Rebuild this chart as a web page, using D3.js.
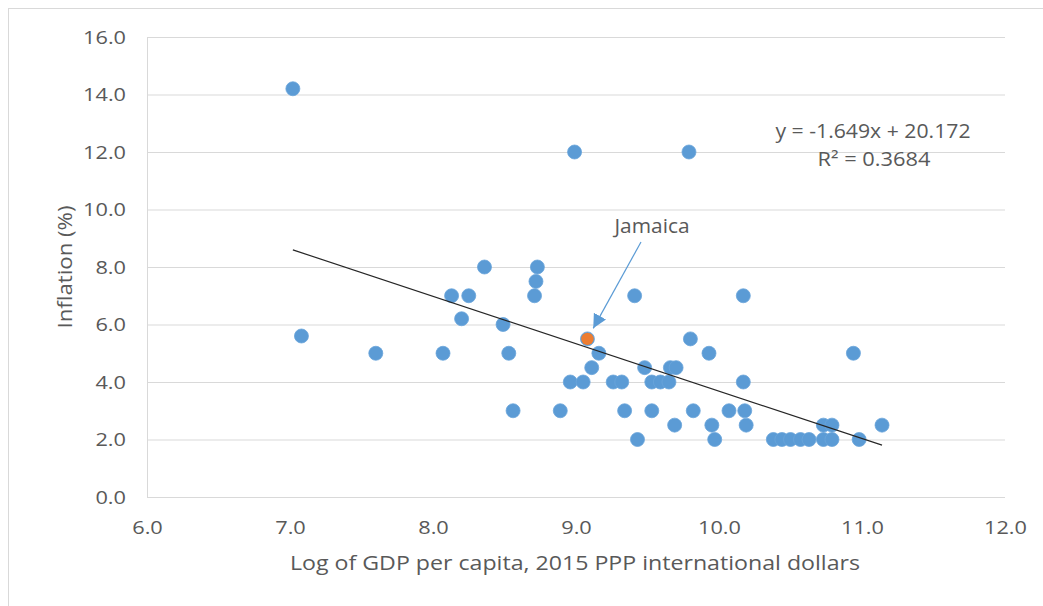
<!DOCTYPE html>
<html>
<head>
<meta charset="utf-8">
<script src="https://cdn.jsdelivr.net/npm/d3@7"></script>
<style>
  html, body { margin: 0; padding: 0; background: #ffffff; }
  svg { display: block; }
  text { font-family: "Open Sans", "Liberation Sans", sans-serif; fill: #595959; }
</style>
</head>
<body>
<svg id="chart" width="1043" height="606"></svg>
<script>
// ---- data ----
const gdpLog = [
  7.02, 7.08, 7.60, 8.07, 8.13, 8.20, 8.25, 8.36, 8.49, 8.53,
  8.56, 8.71, 8.72, 8.73, 8.89, 8.96, 8.99, 9.05, 9.08, 9.11,
  9.16, 9.26, 9.32, 9.34, 9.41, 9.43, 9.48, 9.53, 9.53, 9.59,
  9.65, 9.66, 9.70, 9.69, 9.79, 9.80, 9.82, 9.93, 9.95, 9.97,
  10.07, 10.17, 10.17, 10.18, 10.19, 10.38, 10.44, 10.50, 10.57, 10.63,
  10.73, 10.79, 10.73, 10.79, 10.94, 10.98, 11.14
];
const inflation = [
  14.2, 5.6, 5.0, 5.0, 7.0, 6.2, 7.0, 8.0, 6.0, 5.0,
  3.0, 7.0, 7.5, 8.0, 3.0, 4.0, 12.0, 4.0, 5.5, 4.5,
  5.0, 4.0, 4.0, 3.0, 7.0, 2.0, 4.5, 4.0, 3.0, 4.0,
  4.0, 4.5, 4.5, 2.5, 12.0, 5.5, 3.0, 5.0, 2.5, 2.0,
  3.0, 7.0, 4.0, 3.0, 2.5, 2.0, 2.0, 2.0, 2.0, 2.0,
  2.0, 2.0, 2.5, 2.5, 5.0, 2.0, 2.5
];
const highlightName = ["Jamaica"];
const highlightX = [9.08];
const highlightY = [5.5];
const trendSlope = -1.649;
const trendIntercept = 20.172;
const rSquared = 0.3684;
const xTicks = [6, 7, 8, 9, 10, 11, 12];
const yTicks = [0, 2, 4, 6, 8, 10, 12, 14, 16];
const xTitle = "Log of GDP per capita, 2015 PPP international dollars";
const yTitle = "Inflation (%)";

// ---- drawing ----
const svg = d3.select("#chart");
const plotL = 147, plotR = 1005, plotT = 37, plotB = 497;
const x = d3.scaleLinear().domain([6, 12]).range([plotL, plotR]);
const y = d3.scaleLinear().domain([0, 16]).range([plotB, plotT]);
const grey = "#595959";
const fmt = d3.format(".1f");
const labelWidth = s => s.replace(".", "").length * 12.3 + 6;

// outer chart border (left/top visible)
svg.append("rect").attr("x", 8.5).attr("y", 8.5).attr("width", 1100).attr("height", 700)
  .attr("fill", "none").attr("stroke", "#d9d9d9").attr("stroke-width", 1);

// y axis with gridlines
const yAxis = svg.append("g").attr("transform", `translate(${plotL},0)`)
  .call(d3.axisLeft(y).tickValues(yTicks).tickFormat(fmt)
    .tickSize(-(plotR - plotL)).tickSizeOuter(0).tickPadding(21));
yAxis.select(".domain").attr("stroke", "#d9d9d9").attr("stroke-width", 1);
yAxis.selectAll(".tick line").attr("stroke", "#d9d9d9").attr("stroke-width", 1);
yAxis.selectAll(".tick text")
  .style("font-size", "18.5px").attr("fill", grey).attr("dy", "0.35em")
  .each(function(d){ d3.select(this).attr("textLength", labelWidth(fmt(d))).attr("lengthAdjust", "spacingAndGlyphs"); });

// x axis labels
const xAxis = svg.append("g").attr("transform", `translate(0,${plotB})`)
  .call(d3.axisBottom(x).tickValues(xTicks).tickFormat(fmt).tickSize(0).tickPadding(24));
xAxis.select(".domain").remove();
xAxis.selectAll(".tick text")
  .style("font-size", "18.5px").attr("fill", grey)
  .each(function(d){ d3.select(this).attr("textLength", labelWidth(fmt(d))).attr("lengthAdjust", "spacingAndGlyphs"); });

// axis titles
svg.append("text").attr("x", 575).attr("y", 570)
  .attr("text-anchor", "middle").style("font-size", "19.5px")
  .attr("textLength", 570).attr("lengthAdjust", "spacingAndGlyphs")
  .text(xTitle);
svg.append("text").attr("transform", `translate(72,267) rotate(-90)`)
  .attr("text-anchor", "middle").style("font-size", "19.5px")
  .attr("textLength", 123).attr("lengthAdjust", "spacingAndGlyphs")
  .text(yTitle);

// points
const pts = gdpLog.map((v, i) => ({ x: v, y: inflation[i] }));
svg.append("g").selectAll("circle").data(pts).join("circle")
  .attr("cx", d => x(d.x)).attr("cy", d => y(d.y)).attr("r", 7)
  .attr("fill", "#5b9bd5").attr("stroke", "#6aa5db").attr("stroke-width", 0.8);

// trend line over data range
const xMin = d3.min(gdpLog), xMax = d3.max(gdpLog);
svg.append("line")
  .attr("x1", x(xMin)).attr("y1", y(trendSlope * xMin + trendIntercept))
  .attr("x2", x(xMax)).attr("y2", y(trendSlope * xMax + trendIntercept))
  .attr("stroke", "#262626").attr("stroke-width", 1.2);

// highlighted point (Jamaica)
const hl = highlightX.map((v, i) => ({ x: v, y: highlightY[i], name: highlightName[i] }));
svg.append("g").selectAll("circle").data(hl).join("circle")
  .attr("cx", d => x(d.x)).attr("cy", d => y(d.y)).attr("r", 6.2)
  .attr("fill", "#ed7d31");

// annotation arrow + label
svg.append("defs").append("marker").attr("id", "arrow")
  .attr("viewBox", "0 0 10 10").attr("refX", 10).attr("refY", 5)
  .attr("markerWidth", 14).attr("markerHeight", 14).attr("markerUnits", "userSpaceOnUse")
  .attr("orient", "auto")
  .append("path").attr("d", "M0,0 L10,5 L0,10 Z").attr("fill", "#5b9bd5");

hl.forEach(d => {
  const px = x(d.x), py = y(d.y);
  const sx = 641, sy = 242;
  const dx = sx - px, dy = sy - py, len = Math.hypot(dx, dy);
  const tx = px + dx / len * 12, ty = py + dy / len * 12;
  svg.append("line").attr("x1", sx).attr("y1", sy).attr("x2", tx).attr("y2", ty)
    .attr("stroke", "#5b9bd5").attr("stroke-width", 1.2).attr("marker-end", "url(#arrow)");
  svg.append("text").attr("x", 652).attr("y", 233).attr("text-anchor", "middle")
    .style("font-size", "19.5px").attr("fill", "#404040")
    .attr("textLength", 75).attr("lengthAdjust", "spacingAndGlyphs")
    .text(d.name);
});

// regression equation
svg.append("text").attr("x", 873).attr("y", 138).attr("text-anchor", "middle")
  .style("font-size", "19.5px").attr("textLength", 195).attr("lengthAdjust", "spacingAndGlyphs")
  .text(`y = ${trendSlope}x + ${trendIntercept}`);
svg.append("text").attr("x", 874).attr("y", 166).attr("text-anchor", "middle")
  .style("font-size", "19.5px").attr("textLength", 113).attr("lengthAdjust", "spacingAndGlyphs")
  .text(`R² = ${rSquared}`);
</script>
</body>
</html>
